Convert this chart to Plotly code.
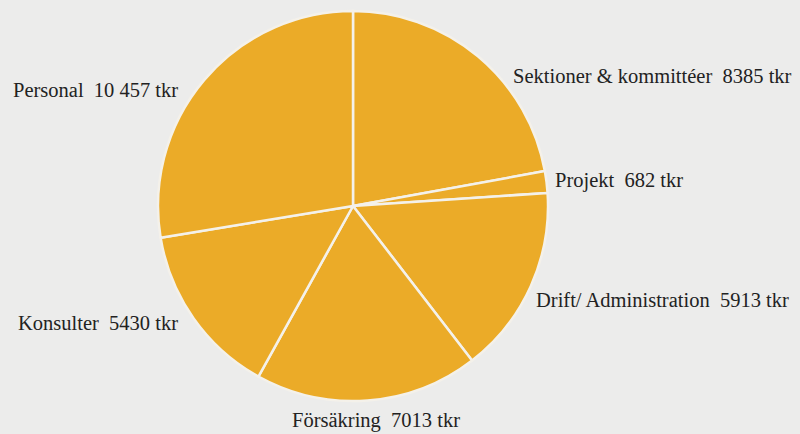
import plotly.graph_objects as go

categories = ["Sektioner & kommittéer", "Projekt", "Drift/ Administration", "Försäkring", "Konsulter", "Personal"]
values = [8385, 682, 5913, 7013, 5430, 10457]
value_labels = ["8385 tkr", "682 tkr", "5913 tkr", "7013 tkr", "5430 tkr", "10 457 tkr"]

# label anchor positions (pixels from top-left, left-anchored)
label_x = [511, 553, 534, 290, 16, 11]
label_y = [76, 180, 300, 420, 323, 90]

W, H = 800, 434
fig = go.Figure()
fig.add_trace(go.Pie(
    labels=categories,
    values=values,
    sort=False,
    direction="clockwise",
    rotation=0,
    textinfo="none",
    hoverinfo="label+value",
    marker=dict(colors=["#EBAB28"] * len(values), line=dict(color="#f4f1ea", width=2.5)),
    domain=dict(x=[(353 - 195) / W, (353 + 195) / W], y=[(H - 206 - 196) / H, (H - 206 + 196) / H]),
    showlegend=False,
))

for c, v, x, y in zip(categories, value_labels, label_x, label_y):
    fig.add_annotation(
        text=f"{c}\u00a0\u00a0{v}",
        x=x / W, y=1 - y / H, xref="paper", yref="paper",
        xanchor="left", yanchor="middle", showarrow=False,
        font=dict(family="Liberation Serif", size=20.5, color="#222222"),
    )

fig.update_layout(
    width=W, height=H,
    margin=dict(l=0, r=0, t=0, b=0),
    paper_bgcolor="#ececeb",
    plot_bgcolor="#ececeb",
)
fig.write_html(
    "out.html",
    config={"displayModeBar": False},
    post_script="document.body.style.margin='0';document.body.style.background='#ececeb';",
)
